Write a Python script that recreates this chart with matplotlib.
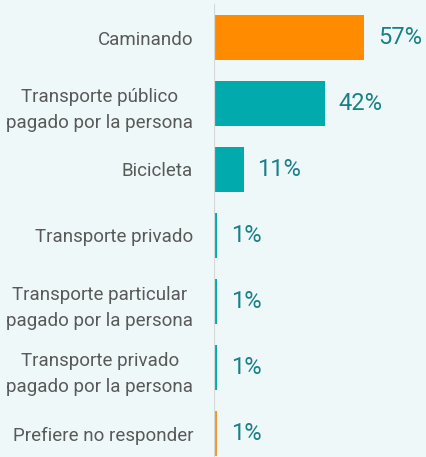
import matplotlib.pyplot as plt

# datos
categorias = [
    "Caminando",
    "Transporte público\npagado por la persona",
    "Bicicleta",
    "Transporte privado",
    "Transporte particular\npagado por la persona",
    "Transporte privado\npagado por la persona",
    "Prefiere no responder",
]
valores = [57, 42, 11, 1, 1, 1, 1]
colores = ["#ff8c00", "#00aaad", "#00aaad", "#00aaad", "#00aaad", "#00aaad", "#f0962a"]

fondo = "#eff8f9"
fuente = ["Roboto", "DejaVu Sans"]

fig = plt.figure(figsize=(4.26, 4.57), dpi=100, facecolor=fondo)
ax = fig.add_axes([214 / 426, 0, 212 / 426, 1])
ax.set_facecolor(fondo)

pos = list(range(len(categorias)))
ax.barh(pos, valores, height=0.68, color=colores, left=0.3)

ax.set_xlim(0, 212 / 2.62)
ax.set_ylim((457 - 37.5) / 66, -37.5 / 66)

for s in ax.spines.values():
    s.set_visible(False)
ax.axvline(0, ymin=0, ymax=1 - 5 / 457, color="#d4d8d8", lw=1.6)
ax.set_xticks([])
ax.set_yticks(pos)
ax.set_yticklabels(categorias, ha="right", multialignment="center",
                   family=fuente, fontsize=13.5, color="#595959", linespacing=1.6)
ax.tick_params(axis="y", length=0, pad=15)

for p, v in zip(pos, valores):
    ax.annotate(f"{v}%", (v + 0.3, p), xytext=(10, 0), textcoords="offset points",
                va="center", ha="left", family=fuente, fontsize=17, color="#1a8088")

fig.savefig("out.png", dpi=100, facecolor=fondo)
